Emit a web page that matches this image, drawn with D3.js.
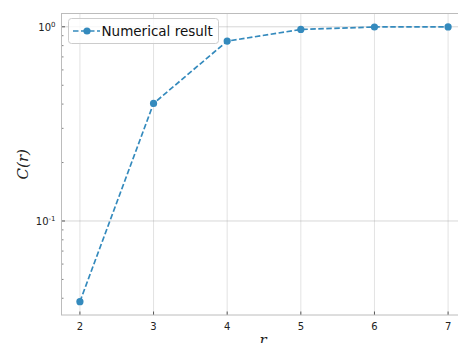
<!DOCTYPE html>
<html><head><meta charset="utf-8">
<script src="https://d3js.org/d3.v7.min.js"></script>
<style>body{margin:0;background:#fff}svg{display:block}</style>
</head><body><svg id="c" width="458" height="343"></svg>
<script>
const xs = [2, 3, 4, 5, 6, 7];
const ys = [0.0384, 0.403, 0.844, 0.969, 0.998, 0.999];
const xTicks = [2, 3, 4, 5, 6, 7];
const yMajor = [0.1, 1];
const seriesName = "Numerical result";
const color = "#348ABD";

const svg = d3.select("#c");
const L = 61.5, R = 466.5, T = 13.5, B = 315;
const x = d3.scaleLinear().domain([1.75, 7.25]).range([L, R]);
const y = d3.scaleLog().domain([0.0328, 1.171]).range([B, T]);

// grid
const g = svg.append("g");
g.selectAll(".gx").data(xTicks).join("line")
  .attr("x1", d => x(d)).attr("x2", d => x(d)).attr("y1", T).attr("y2", B)
  .attr("stroke", "#b8b8b8").attr("stroke-width", 0.8).attr("stroke-dasharray", "1,1");
g.selectAll(".gy").data(yMajor).join("line")
  .attr("x1", L).attr("x2", R).attr("y1", d => y(d)).attr("y2", d => y(d))
  .attr("stroke", "#999").attr("stroke-width", 0.8).attr("stroke-dasharray", "1,1");

// minor ticks
const minor = [];
[0.01, 0.1].forEach(b => { for (let k = 2; k <= 9; k++) { const v = b * k; if (v > 0.0328 && v < 1.171) minor.push(v); } });
g.selectAll(".mt").data(minor).join("line")
  .attr("x1", L).attr("x2", L + 2).attr("y1", d => y(d)).attr("y2", d => y(d))
  .attr("stroke", "#333").attr("stroke-width", 0.6);
g.selectAll(".Mt").data(yMajor).join("line")
  .attr("x1", L).attr("x2", L + 3.5).attr("y1", d => y(d)).attr("y2", d => y(d))
  .attr("stroke", "#333").attr("stroke-width", 0.8);
g.selectAll(".xt").data(xTicks).join("line")
  .attr("x1", d => x(d)).attr("x2", d => x(d)).attr("y1", B).attr("y2", B - 3.5)
  .attr("stroke", "#333").attr("stroke-width", 0.8);

// frame
svg.append("rect").attr("x", L).attr("y", T).attr("width", R - L).attr("height", B - T)
  .attr("fill", "none").attr("stroke", "#bcbcbc").attr("stroke-width", 1);

// tick labels
svg.selectAll(".xl").data(xTicks).join("text")
  .attr("x", d => x(d)).attr("y", B + 15).attr("text-anchor", "middle")
  .attr("font-family", "DejaVu Sans").attr("font-size", 10).attr("fill", "#222").text(d => d);
const yl = svg.selectAll(".yl").data(yMajor).join("text")
  .attr("x", L - 6).attr("y", d => y(d) + 4).attr("text-anchor", "end")
  .attr("font-family", "DejaVu Sans").attr("font-size", 10).attr("fill", "#222");
yl.append("tspan").text("10");
yl.append("tspan").attr("dy", -4).attr("font-size", 7).text(d => Math.round(Math.log10(d)));

// axis labels
svg.append("text").attr("transform", `translate(28,${(T + B) / 2}) rotate(-90)`)
  .attr("text-anchor", "middle").attr("font-family", "DejaVu Serif").attr("font-style", "italic")
  .attr("font-size", 15).attr("fill", "#222").text("C(r)");
svg.append("text").attr("x", 263).attr("y", 345).attr("text-anchor", "middle")
  .attr("font-family", "DejaVu Serif").attr("font-style", "italic")
  .attr("font-size", 15).attr("fill", "#222").text("r");

// line
const line = d3.line().x((d, i) => x(xs[i])).y(d => y(d));
svg.append("path").datum(ys).attr("d", line).attr("fill", "none")
  .attr("stroke", color).attr("stroke-width", 1.7).attr("stroke-dasharray", "5.5,2.5");
svg.selectAll(".pt").data(ys).join("circle")
  .attr("cx", (d, i) => x(xs[i])).attr("cy", d => y(d)).attr("r", 3.6).attr("fill", color);

// legend
const lg = svg.append("g");
lg.append("rect").attr("x", 68.5).attr("y", 18.5).attr("width", 150).attr("height", 25).attr("rx", 3)
  .attr("fill", "#fff").attr("fill-opacity", 0.8).attr("stroke", "#ccc").attr("stroke-width", 1);
lg.append("line").attr("x1", 73).attr("x2", 100).attr("y1", 31).attr("y2", 31)
  .attr("stroke", color).attr("stroke-width", 1.7).attr("stroke-dasharray", "5.5,2.5");
lg.append("circle").attr("cx", 87).attr("cy", 31).attr("r", 3.6).attr("fill", color);
lg.append("text").attr("x", 101.5).attr("y", 36).attr("font-family", "DejaVu Sans").attr("font-size", 13.5)
  .attr("fill", "#111").text(seriesName);
</script></body></html>
